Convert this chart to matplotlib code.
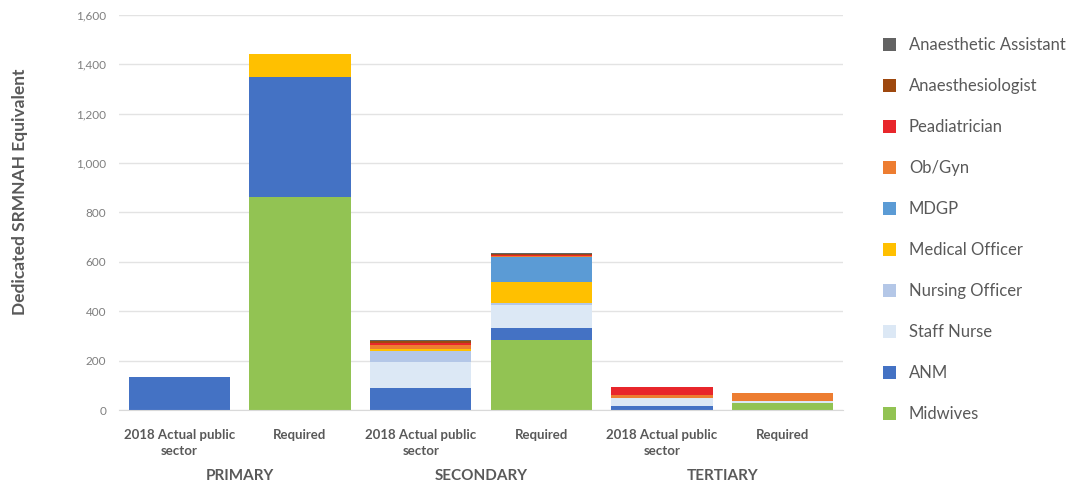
import matplotlib
matplotlib.use("Agg")
import matplotlib.pyplot as plt
from matplotlib.patches import Patch
import numpy as np

plt.rcParams['font.family'] = ['Lato', 'DejaVu Sans']

# Bars: (sector, scenario)
bar_labels = ["2018 Actual public\nsector", "Required",
              "2018 Actual public\nsector", "Required",
              "2018 Actual public\nsector", "Required"]
sectors = ["PRIMARY", "SECONDARY", "TERTIARY"]

# Stacking order, bottom to top
cadres = ["Midwives", "ANM", "Staff Nurse", "Nursing Officer", "Medical Officer",
          "MDGP", "Ob/Gyn", "Peadiatrician", "Anaesthesiologist",
          "Anaesthetic Assistant"]

midwives = [0, 862, 0, 285, 0, 27]
anm = [135, 488, 88, 47, 18, 0]
staff_nurse = [0, 0, 106, 95, 30, 10]
nursing_officer = [0, 0, 43, 8, 0, 0]
medical_officer = [0, 93, 12, 85, 0, 0]
mdgp = [0, 0, 0, 100, 0, 0]
ob_gyn = [0, 0, 15, 3, 12, 33]
peadiatrician = [0, 0, 8, 3, 35, 0]
anaesthesiologist = [0, 0, 8, 6, 0, 0]
anaesthetic_assistant = [0, 0, 4, 2, 0, 0]

series = [midwives, anm, staff_nurse, nursing_officer, medical_officer,
          mdgp, ob_gyn, peadiatrician, anaesthesiologist, anaesthetic_assistant]

colors = ["#92c353", "#4472c4", "#dce8f5", "#b4c7e7", "#ffc000",
          "#5b9bd5", "#ed7d31", "#e8262b", "#9e480e", "#636363"]

fig = plt.figure(figsize=(10.72, 4.86), dpi=100)
ax = fig.add_axes([119 / 1072, 1 - 410 / 486, 724 / 1072, 395 / 486])

x = np.arange(len(bar_labels))
bottom = np.zeros(len(bar_labels))
for vals, col in zip(series, colors):
    v = np.array(vals, dtype=float)
    ax.bar(x, v, width=0.84, bottom=bottom, color=col, linewidth=0, zorder=3)
    bottom += v

ax.set_xlim(-0.5, len(bar_labels) - 0.5)
ax.set_ylim(0, 1600)
ax.set_yticks(np.arange(0, 1601, 200))
ax.set_yticklabels([f"{v:,}" for v in range(0, 1601, 200)],
                   fontsize=8.5, color="#7f7f7f")
ax.yaxis.grid(True, color="#e3e3e3", linewidth=1, zorder=0)
ax.tick_params(axis="y", length=0, pad=9)
ax.tick_params(axis="x", length=0, pad=14)
ax.set_xticks(x)
ax.set_xticklabels(bar_labels, fontsize=9.5, color="#595959", fontweight="bold",
                   linespacing=1.35)
for s in ["top", "right", "left"]:
    ax.spines[s].set_visible(False)
ax.spines["bottom"].set_color("#d9d9d9")
ax.spines["bottom"].set_zorder(4)

ax.set_ylabel("Dedicated SRMNAH Equivalent", fontsize=12.5, fontweight="bold",
              color="#595959")
ax.yaxis.set_label_coords(-0.126, 0.552)

for i, name in enumerate(sectors):
    ax.text(2 * i + 0.5, -0.167, name, transform=ax.get_xaxis_transform(),
            ha="center", va="center", fontsize=11, fontweight="bold",
            color="#595959")

handles = [Patch(facecolor=c, edgecolor="none") for c in colors]
leg = fig.legend(handles[::-1], cadres[::-1], loc="upper left",
                 bbox_to_anchor=(868 / 1072, 1 - 22 / 486), frameon=False,
                 fontsize=12, labelspacing=1.5, handlelength=0.8,
                 handleheight=0.8, handletextpad=0.75)
for t in leg.get_texts():
    t.set_color("#595959")

fig.savefig("out.png", dpi=100)
